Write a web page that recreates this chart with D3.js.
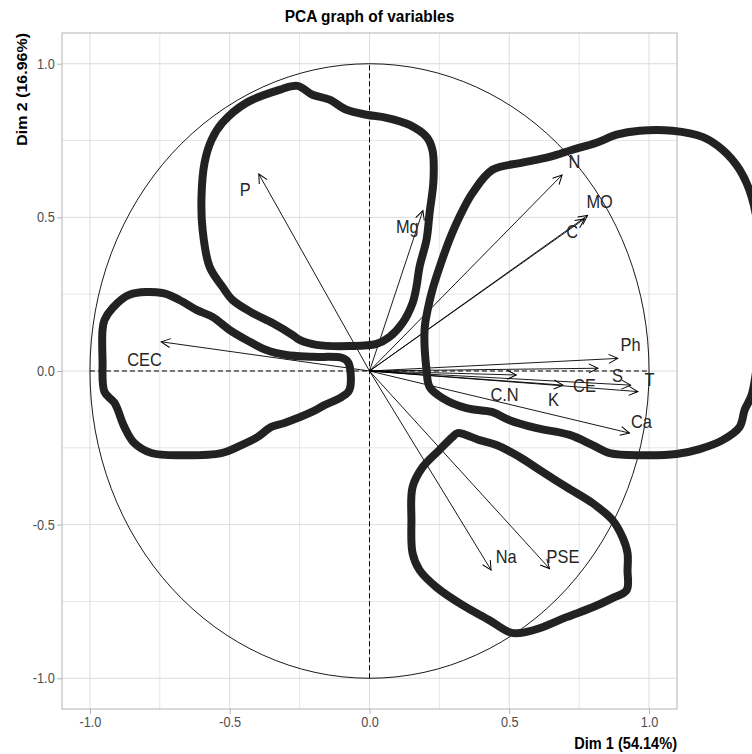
<!DOCTYPE html>
<html>
<head>
<meta charset="utf-8">
<script src="https://cdn.jsdelivr.net/npm/d3@7"></script>
<style>
  body { margin: 0; background: #fff; }
  svg { display: block; font-family: "Liberation Sans", Arial, sans-serif; }
</style>
</head>
<body>
<div id="chart"></div>
<script>
const width = 752;
const height = 754;

// variables and their coordinates on Dim 1 / Dim 2
const variables = ["N", "MO", "C", "P", "Mg", "CEC", "Na", "PSE", "Ph", "S", "T", "CE", "K", "C.N", "Ca"];
const dim1 = [0.689, 0.780, 0.769, -0.396, 0.191, -0.745, 0.435, 0.644, 0.888, 0.817, 0.960, 0.934, 0.692, 0.525, 0.930];
const dim2 = [0.638, 0.506, 0.495, 0.641, 0.522, 0.095, -0.648, -0.643, 0.041, 0.009, -0.067, -0.046, -0.046, -0.013, -0.202];

// where each label sits (repelled)
const labelDim1 = [0.733, 0.823, 0.725, -0.445, 0.135, -0.805, 0.489, 0.692, 0.934, 0.887, 1.002, 0.769, 0.658, 0.483, 0.973];
const labelDim2 = [0.681, 0.550, 0.454, 0.592, 0.470, 0.036, -0.605, -0.603, 0.085, -0.016, -0.029, -0.046, -0.094, -0.075, -0.166];

// axis ticks
const majorTicks = [-1.0, -0.5, 0.0, 0.5, 1.0];
const tickLabels = ["-1.0", "-0.5", "0.0", "0.5", "1.0"];
const minorTicks = [-0.75, -0.25, 0.25, 0.75];

// hand drawn groupings on top of the plot, [dim1, dim2]
const groupPMg = [
  [-0.258, 0.928], [-0.204, 0.899], [-0.143, 0.883], [-0.082, 0.850], [-0.011, 0.834], [0.061, 0.824],
  [0.143, 0.801], [0.204, 0.762], [0.225, 0.720], [0.229, 0.622], [0.215, 0.515], [0.204, 0.427],
  [0.179, 0.339], [0.168, 0.274], [0.154, 0.221], [0.118, 0.156], [0.072, 0.111], [0.025, 0.088],
  [-0.072, 0.081], [-0.190, 0.085], [-0.250, 0.101], [-0.275, 0.117], [-0.347, 0.156], [-0.419, 0.189],
  [-0.490, 0.231], [-0.526, 0.274], [-0.572, 0.339], [-0.597, 0.459], [-0.601, 0.567], [-0.590, 0.678],
  [-0.565, 0.752], [-0.526, 0.808], [-0.440, 0.873], [-0.322, 0.915]
];
const groupCEC = [
  [-0.859, 0.248], [-0.741, 0.254], [-0.680, 0.231], [-0.619, 0.199], [-0.562, 0.176], [-0.501, 0.134],
  [-0.440, 0.101], [-0.369, 0.068], [-0.297, 0.052], [-0.204, 0.046], [-0.097, 0.042], [-0.075, 0.026],
  [-0.072, -0.062], [-0.100, -0.085], [-0.161, -0.111], [-0.208, -0.134], [-0.304, -0.169], [-0.351, -0.182],
  [-0.401, -0.215], [-0.458, -0.241], [-0.530, -0.267], [-0.662, -0.274], [-0.780, -0.267], [-0.841, -0.235],
  [-0.877, -0.182], [-0.912, -0.104], [-0.948, -0.068], [-0.955, 0.036], [-0.955, 0.134], [-0.948, 0.166],
  [-0.919, 0.205]
];
const groupRight = [
  [0.250, 0.336], [0.286, 0.427], [0.322, 0.502], [0.369, 0.580], [0.440, 0.655], [0.547, 0.678],
  [0.644, 0.697], [0.726, 0.720], [0.812, 0.743], [0.884, 0.769], [0.966, 0.782], [1.084, 0.782],
  [1.191, 0.762], [1.263, 0.720], [1.324, 0.655], [1.367, 0.567], [1.395, 0.427], [1.402, 0.231],
  [1.388, 0.036], [1.367, -0.078], [1.342, -0.127], [1.324, -0.182], [1.263, -0.225], [1.181, -0.254],
  [1.098, -0.270], [0.977, -0.274], [0.859, -0.267], [0.798, -0.241], [0.716, -0.208], [0.598, -0.186],
  [0.501, -0.160], [0.440, -0.134], [0.347, -0.121], [0.261, -0.088], [0.215, -0.052], [0.204, 0.003],
  [0.197, 0.134], [0.208, 0.199], [0.225, 0.264]
];
const groupNa = [
  [0.315, -0.202], [0.394, -0.225], [0.454, -0.241], [0.537, -0.280], [0.608, -0.322], [0.705, -0.378],
  [0.798, -0.430], [0.869, -0.485], [0.905, -0.541], [0.923, -0.593], [0.923, -0.648], [0.920, -0.713],
  [0.869, -0.739], [0.798, -0.769], [0.705, -0.801], [0.608, -0.837], [0.537, -0.853], [0.501, -0.850],
  [0.429, -0.811], [0.333, -0.762], [0.240, -0.704], [0.179, -0.648], [0.154, -0.593], [0.150, -0.485],
  [0.154, -0.378], [0.190, -0.313], [0.250, -0.257], [0.297, -0.215]
];

// the picture is squeezed horizontally, so is the text
const squeeze = 0.91;

const x = d3.scaleLinear().domain([-1.1, 1.1]).range([62, 677]);
const y = d3.scaleLinear().domain([-1.1, 1.1]).range([709, 33]);

const svg = d3.select("#chart").append("svg")
    .attr("width", width)
    .attr("height", height);

// arrow head
svg.append("defs").append("marker")
    .attr("id", "head")
    .attr("viewBox", "-11 -6 13 12")
    .attr("refX", 0)
    .attr("refY", 0)
    .attr("markerWidth", 13)
    .attr("markerHeight", 12)
    .attr("markerUnits", "userSpaceOnUse")
    .attr("orient", "auto")
    .append("path")
    .attr("d", "M-9,-4.5L0,0L-9,4.5")
    .attr("fill", "none")
    .attr("stroke", "#000")
    .attr("stroke-width", 1);

// grid
const grid = svg.append("g");
grid.selectAll(".vminor").data(minorTicks).enter().append("line")
    .attr("x1", d => x(d)).attr("x2", d => x(d))
    .attr("y1", y(-1.1)).attr("y2", y(1.1))
    .attr("stroke", "#e6e6e6").attr("stroke-width", 1);
grid.selectAll(".hminor").data(minorTicks).enter().append("line")
    .attr("y1", d => y(d)).attr("y2", d => y(d))
    .attr("x1", x(-1.1)).attr("x2", x(1.1))
    .attr("stroke", "#e6e6e6").attr("stroke-width", 1);
grid.selectAll(".vmajor").data(majorTicks).enter().append("line")
    .attr("x1", d => x(d)).attr("x2", d => x(d))
    .attr("y1", y(-1.1)).attr("y2", y(1.1))
    .attr("stroke", "#dcdcdc").attr("stroke-width", 1);
grid.selectAll(".hmajor").data(majorTicks).enter().append("line")
    .attr("y1", d => y(d)).attr("y2", d => y(d))
    .attr("x1", x(-1.1)).attr("x2", x(1.1))
    .attr("stroke", "#dcdcdc").attr("stroke-width", 1);

// panel border
svg.append("rect")
    .attr("x", x(-1.1)).attr("y", y(1.1))
    .attr("width", x(1.1) - x(-1.1))
    .attr("height", y(-1.1) - y(1.1))
    .attr("fill", "none")
    .attr("stroke", "#b3b3b3");

// axes
const xAxis = svg.append("g")
    .attr("transform", `translate(0,${y(-1.1)})`)
    .call(d3.axisBottom(x).tickValues(majorTicks).tickSize(5).tickFormat((d, i) => tickLabels[i]));
const yAxis = svg.append("g")
    .attr("transform", `translate(${x(-1.1)},0)`)
    .call(d3.axisLeft(y).tickValues(majorTicks).tickSize(5).tickFormat((d, i) => tickLabels[i]));
[xAxis, yAxis].forEach(a => {
  a.select(".domain").remove();
  a.selectAll(".tick line").attr("stroke", "#b3b3b3");
  a.selectAll(".tick text")
      .attr("fill", "#4d4d4d")
      .style("font-size", "14px")
      .attr("transform", `scale(${squeeze},1)`);
});

// correlation circle
svg.append("ellipse")
    .attr("cx", x(0)).attr("cy", y(0))
    .attr("rx", x(1) - x(0)).attr("ry", y(0) - y(1))
    .attr("fill", "none")
    .attr("stroke", "#000")
    .attr("stroke-width", 0.9);

// dashed axes through the origin
svg.append("line")
    .attr("x1", x(0)).attr("x2", x(0)).attr("y1", y(-1)).attr("y2", y(1))
    .attr("stroke", "#000").attr("stroke-dasharray", "5,3");
svg.append("line")
    .attr("x1", x(-1)).attr("x2", x(1)).attr("y1", y(0)).attr("y2", y(0))
    .attr("stroke", "#000").attr("stroke-dasharray", "5,3");

// arrows
svg.append("g").selectAll("line")
    .data(variables)
    .enter()
    .append("line")
    .attr("x1", x(0)).attr("y1", y(0))
    .attr("x2", (d, i) => x(dim1[i]))
    .attr("y2", (d, i) => y(dim2[i]))
    .attr("stroke", "#000")
    .attr("stroke-width", 0.9)
    .attr("marker-end", "url(#head)");

// variable labels
svg.append("g").selectAll("text")
    .data(variables)
    .enter()
    .append("text")
    .attr("transform", (d, i) => `translate(${x(labelDim1[i])},${y(labelDim2[i])}) scale(${squeeze},1)`)
    .attr("text-anchor", "middle")
    .attr("dy", "0.36em")
    .attr("fill", "#262626")
    .style("font-size", "18px")
    .text(d => d);

// hand drawn outlines
const outline = d3.line()
    .x(d => x(d[0]))
    .y(d => y(d[1]))
    .curve(d3.curveCatmullRomClosed.alpha(0.5));
svg.append("g").selectAll("path")
    .data([groupPMg, groupCEC, groupRight, groupNa])
    .enter()
    .append("path")
    .attr("d", outline)
    .attr("fill", "none")
    .attr("stroke", "#222")
    .attr("stroke-width", 8)
    .attr("stroke-linejoin", "round");

// titles
svg.append("text")
    .attr("transform", `translate(${(x(-1.1) + x(1.1)) / 2},22) scale(${squeeze},1)`)
    .attr("text-anchor", "middle")
    .style("font-size", "17px")
    .style("font-weight", "bold")
    .text("PCA graph of variables");

svg.append("text")
    .attr("transform", `translate(${x(1.1)},749) scale(${squeeze},1)`)
    .attr("text-anchor", "end")
    .style("font-size", "16px")
    .style("font-weight", "bold")
    .text("Dim 1 (54.14%)");

svg.append("text")
    .attr("transform", `translate(27,${y(1.1)}) rotate(-90) scale(1,${squeeze})`)
    .attr("text-anchor", "end")
    .style("font-size", "16px")
    .style("font-weight", "bold")
    .text("Dim 2 (16.96%)");
</script>
</body>
</html>
